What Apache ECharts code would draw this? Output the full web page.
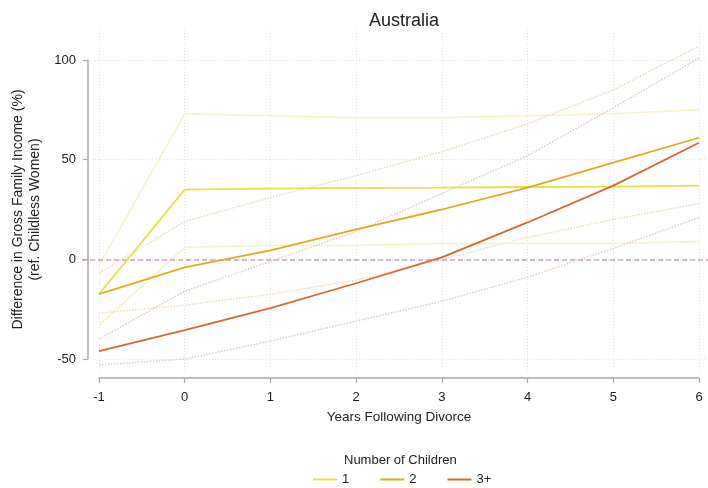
<!DOCTYPE html>
<html>
<head>
<meta charset="utf-8">
<script src="https://cdn.jsdelivr.net/npm/echarts@6/dist/echarts.min.js"></script>
<style>html,body{margin:0;padding:0;background:#fff}#c{width:708px;height:488px}</style>
</head>
<body>
<div id="c"></div>
<script>
// ---- data ----
const years = [-1, 0, 1, 2, 3, 4, 5, 6];
const seriesNames = ['1', '2', '3+'];
const oneChild     = [-17.5, 35, 35.5, 35.8, 36, 36.3, 36.5, 37];
const twoChildren  = [-17.5, -4, 4.5, 15, 25, 36, 48.5, 61];
const threePlus    = [-46, -35.5, -24.5, -12, 1, 18.5, 37, 58.5];
const oneUpper     = [-3, 73, 72, 71, 71, 72, 73, 75];
const oneLower     = [-33, 6, 7, 7, 8, 8, 8, 9];
const twoUpper     = [-7, 19, 31, 42, 54, 68, 85, 107];
const twoLower     = [-27, -23, -17.5, -10.5, 0, 11, 20, 28];
const threeUpper   = [-40, -16, -1, 14, 33, 52, 76, 101];
const threeLower   = [-53, -50, -41, -31, -21, -9, 5.5, 21];
const yTicks = [-50, 0, 50, 100];
const referenceLine = 0;

const pts = arr => years.map((x, i) => [x, arr[i]]);
const font = 'Liberation Sans, Arial, sans-serif';
const axisGray = '#a9a9a9';
const gridGray = '#e2e2e2';

function mainLine(name, data, color) {
  return { name, type: 'line', data: pts(data), xAxisIndex: 0, yAxisIndex: 0,
    symbol: 'none', clip: false, z: 5, color: color,
    lineStyle: { color, width: 1.8 }, itemStyle: { color } };
}
function ciLine(name, data, color, type) {
  return { name, type: 'line', data: pts(data), xAxisIndex: 0, yAxisIndex: 0,
    symbol: 'none', clip: false, z: 3, silent: true,
    lineStyle: { color, width: 1.5, type: type } };
}

const chart = echarts.init(document.getElementById('c'), null, { renderer: 'canvas' });
chart.setOption({
  animation: false,
  backgroundColor: '#fff',
  textStyle: { fontFamily: font },
  title: [
    { text: 'Australia', left: 364, top: 7,
      textStyle: { fontFamily: font, fontSize: 18, fontWeight: 'normal', color: '#222' } },
    { text: 'Number of Children', left: 339, top: 449,
      textStyle: { fontFamily: font, fontSize: 13, fontWeight: 'normal', color: '#222' } }
  ],
  legend: {
    data: seriesNames, left: 308, top: 468, icon: 'rect', itemWidth: 24, itemHeight: 2,
    itemGap: 31, textStyle: { fontFamily: font, fontSize: 13, color: '#222' }
  },
  grid: [
    { left: 99, right: 9, top: 60, height: 299 },   // data
    { left: 99, right: 9, top: 30, bottom: 117 },   // vertical grid lines
    { left: 92, right: 3, top: 60, height: 299 },   // horizontal grid lines
    { left: 82, right: 0, top: 60, height: 299 }    // reference line
  ],
  xAxis: [
    { gridIndex: 0, type: 'value', min: -1, max: 6, interval: 1, offset: 19,
      axisLine: { show: true, onZero: false, lineStyle: { color: axisGray, width: 1.5 } },
      axisTick: { show: true, length: 5, lineStyle: { color: axisGray, width: 1.2 } },
      axisLabel: { margin: 13, fontSize: 13, color: '#222', fontFamily: font },
      splitLine: { show: false },
      name: 'Years Following Divorce', nameLocation: 'middle', nameGap: 32,
      nameTextStyle: { fontSize: 13.5, color: '#222', fontFamily: font } },
    { gridIndex: 1, type: 'value', min: -1, max: 6, interval: 1,
      axisLine: { show: false, onZero: false }, axisTick: { show: false }, axisLabel: { show: false },
      splitLine: { show: true, lineStyle: { color: gridGray, width: 1, type: [1, 2] } } },
    { gridIndex: 2, type: 'value', min: 0, max: 1, show: false },
    { gridIndex: 3, type: 'value', min: 0, max: 1, show: false }
  ],
  yAxis: [
    { gridIndex: 0, type: 'value', min: -50, max: 100, interval: 50, offset: 11,
      axisLine: { show: true, onZero: false, lineStyle: { color: axisGray, width: 1.5 } },
      axisTick: { show: true, length: 5, lineStyle: { color: axisGray, width: 1.2 } },
      axisLabel: { margin: 12, fontSize: 13, color: '#222', fontFamily: font },
      splitLine: { show: false },
      name: 'Difference in Gross Family Income (%)\n(ref. Childless Women)',
      nameLocation: 'middle', nameGap: 37,
      nameTextStyle: { fontSize: 14, lineHeight: 17, color: '#222', fontFamily: font } },
    { gridIndex: 1, type: 'value', min: 0, max: 1, show: false },
    { gridIndex: 2, type: 'value', min: -50, max: 100, interval: 50,
      axisLine: { show: false, onZero: false }, axisTick: { show: false }, axisLabel: { show: false },
      splitLine: { show: true, lineStyle: { color: gridGray, width: 1, type: [1, 2] } } },
    { gridIndex: 3, type: 'value', min: -50, max: 100, show: false }
  ],
  series: [
    ciLine('1 upper', oneUpper, '#f7f2c6', 'solid'),
    ciLine('1 lower', oneLower, '#f7f2c6', 'solid'),
    ciLine('2 upper', twoUpper, '#ebd8b6', [1.5, 1.5]),
    ciLine('2 lower', twoLower, '#f1dab6', [1.5, 1.5]),
    ciLine('3+ upper', threeUpper, '#dccdc6', [1.5, 1.5]),
    ciLine('3+ lower', threeLower, '#dccdc6', [1.5, 1.5]),
    mainLine('1', oneChild, '#e6e044'),
    mainLine('2', twoChildren, '#e2a81e'),
    mainLine('3+', threePlus, '#d8672c'),
    { name: 'reference', type: 'line', xAxisIndex: 3, yAxisIndex: 3, data: [], silent: true,
      markLine: { silent: true, symbol: 'none', label: { show: false },
        lineStyle: { color: '#c8a2c8', width: 1.5, type: [5, 3] },
        data: [{ yAxis: referenceLine }] } }
  ]
});
</script>
</body>
</html>
